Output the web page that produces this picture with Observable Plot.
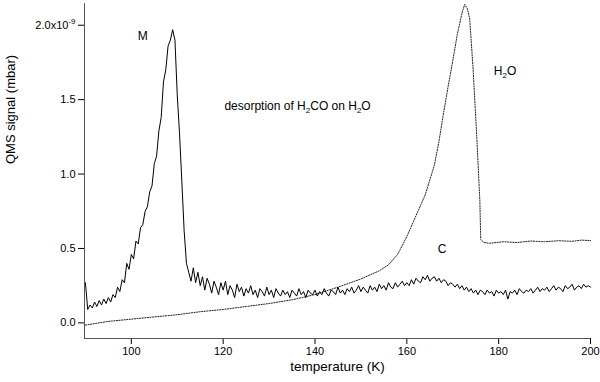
<!DOCTYPE html>
<html><head><meta charset="utf-8">
<script src="https://cdn.jsdelivr.net/npm/d3@7"></script>
<script src="https://cdn.jsdelivr.net/npm/@observablehq/plot@0.6"></script>
<style>body{margin:0;background:#fff}</style>
</head><body><div id="chart"></div>
<script>
// M (H2CO) trace, sampled every 0.5 K starting at 90 K
const mStartT = 90;
const mStepT = 0.5;
const mSignal = [
  0.27,0.09,0.12,0.10,0.14,0.11,0.15,0.12,0.16,0.13,0.17,0.14,0.19,0.17,0.24,0.21,0.29,0.27,0.40,0.36,
  0.46,0.43,0.55,0.53,0.64,0.66,0.75,0.78,0.88,0.92,1.07,1.12,1.29,1.38,1.62,1.70,1.86,1.90,1.97,1.90,
  1.53,1.27,0.95,0.62,0.40,0.34,0.28,0.37,0.27,0.34,0.25,0.31,0.22,0.30,0.26,0.20,0.28,0.24,0.19,0.27,
  0.22,0.28,0.19,0.25,0.22,0.17,0.26,0.21,0.24,0.18,0.23,0.20,0.25,0.19,0.22,0.17,0.23,0.21,0.18,0.24,
  0.19,0.22,0.17,0.23,0.20,0.18,0.22,0.19,0.21,0.17,0.22,0.20,0.18,0.23,0.19,0.21,0.17,0.22,0.20,0.19,
  0.22,0.18,0.21,0.19,0.23,0.20,0.18,0.22,0.21,0.19,0.24,0.20,0.22,0.19,0.23,0.21,0.24,0.20,0.22,0.25,
  0.21,0.24,0.22,0.20,0.25,0.22,0.24,0.21,0.26,0.23,0.25,0.22,0.27,0.24,0.23,0.27,0.24,0.26,0.28,0.25,
  0.27,0.25,0.29,0.26,0.30,0.28,0.27,0.31,0.29,0.32,0.28,0.30,0.31,0.28,0.30,0.27,0.29,0.28,0.25,0.27,
  0.26,0.24,0.26,0.23,0.25,0.22,0.24,0.21,0.23,0.20,0.22,0.19,0.22,0.21,0.19,0.22,0.20,0.21,0.18,0.22,
  0.20,0.21,0.19,0.22,0.16,0.21,0.20,0.22,0.19,0.23,0.21,0.20,0.22,0.21,0.23,0.20,0.22,0.24,0.21,0.23,
  0.22,0.24,0.21,0.23,0.25,0.22,0.24,0.23,0.21,0.25,0.23,0.24,0.26,0.22,0.24,0.25,0.23,0.26,0.24,0.25,
  0.24
];
// H2O trace
const h2oTemp = [90,95,100,105,110,115,120,125,130,135,140,145,150,154,156,158,160,162,164,166,167,168,169,170,171,172,172.6,173.2,173.7,174.4,175.2,175.9,176.1,176.8,178,181,184,187,190,193,196,198,200];
const h2oSignal = [-0.015,0.01,0.025,0.04,0.055,0.075,0.09,0.11,0.13,0.155,0.19,0.24,0.295,0.35,0.39,0.46,0.58,0.72,0.86,1.06,1.22,1.41,1.59,1.76,1.94,2.08,2.14,2.11,2.04,1.72,1.27,0.82,0.56,0.54,0.535,0.545,0.54,0.55,0.545,0.552,0.548,0.556,0.553];
const xTicks = [100,120,140,160,180,200];
const yTicks = [0,0.5,1,1.5,2];
const annoText = ["M","H2O","desorption of H2CO on H2O","C"];
const annoT = [102.5,181.4,136.2,167.7];
const annoV = [1.927,1.69,1.454,0.493];

const xDomain = [89.8, 200];
const yDomain = [-0.105, 2.146];

const mData = mSignal.map((v,i) => ({T: mStartT + i*mStepT, v}));
const h2oData = h2oTemp.map((T,i) => ({T, v: h2oSignal[i]}));
const annos = annoText.map((t,i) => ({label: t, T: annoT[i], v: annoV[i]}));

const chart = Plot.plot({
  width: 600, height: 382,
  marginLeft: 84, marginRight: 10, marginTop: 3, marginBottom: 44,
  style: {fontFamily: "'Liberation Sans', Arial, sans-serif", fontSize: "11px", background: "#fff", color: "#000"},
  x: {domain: xDomain, ticks: xTicks, tickSize: 6, tickPadding: 3, label: null},
  y: {domain: yDomain, ticks: yTicks, tickSize: 6, tickPadding: 3, label: null,
      tickFormat: d => d === 2 ? "2.0x10" : d3.format(".1f")(d)},
  marks: [
    Plot.ruleX([xDomain[0]], {stroke: "#555"}),
    Plot.ruleY([yDomain[0]], {stroke: "#555"}),
    Plot.line(h2oData, {x: "T", y: "v", stroke: "#222", strokeWidth: 1, strokeDasharray: "1.2,1.4"}),
    Plot.line(mData, {x: "T", y: "v", stroke: "#000", strokeWidth: 1}),
    Plot.text(annos, {x: "T", y: "v", text: "label", fontSize: 12}),
    Plot.text(["temperature (K)"], {text: d => d, frameAnchor: "bottom", dy: 32, fontSize: 13.5}),
    Plot.text(["QMS signal (mbar)"], {text: d => d, frameAnchor: "left", dx: -74, dy: -7, rotate: -90, fontSize: 13})
  ]
});
document.getElementById("chart").appendChild(chart);

// subscripts / superscripts
const NS = "http://www.w3.org/2000/svg";
chart.querySelectorAll("text").forEach(t => {
  const s = t.textContent;
  if (s === "2.0x10") {
    const sup = document.createElementNS(NS, "tspan");
    sup.setAttribute("dy", "-5");
    sup.setAttribute("font-size", "8");
    sup.textContent = "-9";
    t.appendChild(sup);
  } else if (s.includes("H2") && t.children.length === 0) {
    const parts = s.split("H2");
    t.textContent = "";
    parts.forEach((p, i) => {
      if (i > 0) {
        const h = document.createElementNS(NS, "tspan");
        h.textContent = "H";
        t.appendChild(h);
        const sub = document.createElementNS(NS, "tspan");
        sub.setAttribute("dy", "3");
        sub.setAttribute("font-size", "8");
        sub.textContent = "2";
        t.appendChild(sub);
        const rest = document.createElementNS(NS, "tspan");
        rest.setAttribute("dy", "-3");
        rest.textContent = p;
        t.appendChild(rest);
      } else if (p.length) {
        const first = document.createElementNS(NS, "tspan");
        first.textContent = p;
        t.appendChild(first);
      }
    });
  }
});
</script>
</body></html>
